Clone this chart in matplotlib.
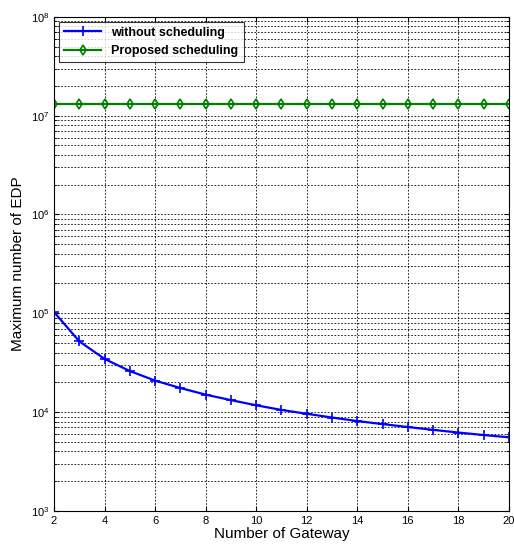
import matplotlib
matplotlib.use('Agg')
import matplotlib.pyplot as plt

plt.rcParams['font.family'] = ['Liberation Sans', 'DejaVu Sans']

gateways = [2, 3, 4, 5, 6, 7, 8, 9, 10, 11, 12, 13, 14, 15, 16, 17, 18, 19, 20]
without_sched = [103000, 52000, 34500, 26000, 20800, 17500, 15000, 13200, 11700,
                 10500, 9600, 8800, 8100, 7550, 7050, 6600, 6200, 5850, 5550]
proposed_sched = [1.32e7] * len(gateways)

fig = plt.figure(figsize=(5.14, 5.44), dpi=100)
ax = fig.add_axes([0.105, 0.061, 0.885, 0.908])

ax.semilogy(gateways, without_sched, color='#0000ff', marker='+', markersize=7,
            markeredgewidth=1.2, linewidth=1.6, label='without scheduling')
ax.semilogy(gateways, proposed_sched, color='#008000', marker='d', markersize=5.5,
            markerfacecolor='none', markeredgewidth=1.2, linewidth=1.6,
            label='Proposed scheduling')

ax.set_xlim(2, 20)
ax.set_ylim(1e3, 1e8)
ax.set_xticks(range(2, 21, 2))
ax.grid(True, which='both', color='black', linestyle=(0, (2, 2)), linewidth=0.6)
ax.tick_params(axis='both', which='both', direction='in', top=True, right=True)
ax.tick_params(axis='both', which='major', labelsize=8)
ax.set_xlabel('Number of Gateway', fontsize=11, labelpad=1)
ax.set_ylabel('Maximum number of EDP', fontsize=11)

leg = ax.legend(loc='upper left', fancybox=False, edgecolor='black',
                prop={'weight': 'bold', 'size': 9}, borderaxespad=0.4,
                handlelength=3)
leg.get_frame().set_linewidth(0.8)

plt.savefig('out.png', dpi=100)
